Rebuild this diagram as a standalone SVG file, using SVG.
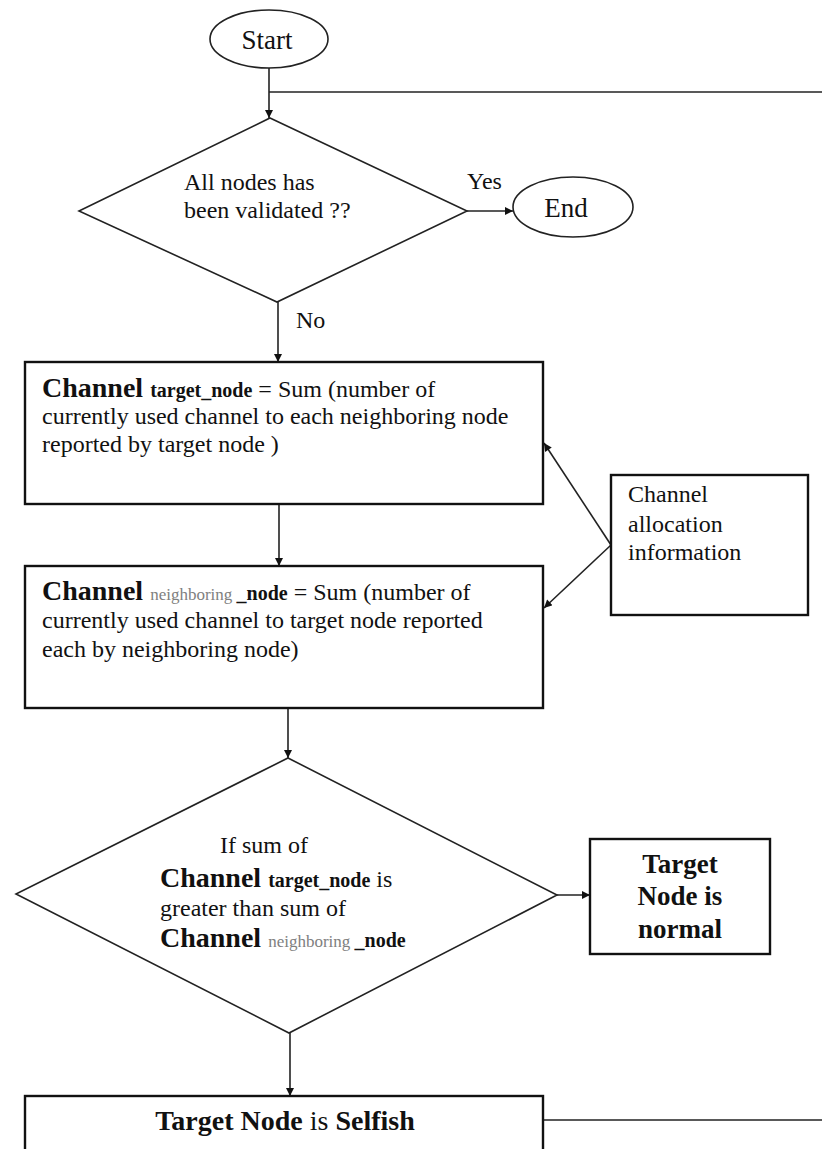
<svg xmlns="http://www.w3.org/2000/svg" width="822" height="1149" viewBox="0 0 822 1149">
<style>
  text { font-family: "Liberation Serif", "Times New Roman", serif; fill: #111; }
  .t { font-size: 24px; }
  .lbl { font-size: 24px; }
  .big { font-size: 28px; font-weight: bold; }
  .sub { font-size: 20px; font-weight: bold; }
  .subg { font-size: 17px; fill: #808080; }
  .bold27 { font-size: 27px; font-weight: bold; }
  .oval { font-size: 27px; }
  .shape { fill: #fff; stroke: #222; stroke-width: 1.6; }
  .box { fill: #fff; stroke: #111; stroke-width: 2.4; }
  .conn { fill: none; stroke: #222; stroke-width: 1.6; }
</style>
<defs>
  <marker id="arr" viewBox="0 0 10 10" refX="10" refY="5" markerUnits="userSpaceOnUse" markerWidth="9" markerHeight="8" orient="auto">
    <path d="M0,0 L10,5 L0,10 z" fill="#111"/>
  </marker>
</defs>

<g id="connectors">
  <line class="conn" x1="269" y1="68" x2="269" y2="118" marker-end="url(#arr)"/>
  <line class="conn" x1="269" y1="92" x2="822" y2="92"/>
  <line class="conn" x1="467" y1="211" x2="513" y2="211" marker-end="url(#arr)"/>
  <line class="conn" x1="278" y1="302" x2="278" y2="362" marker-end="url(#arr)"/>
  <line class="conn" x1="279" y1="504" x2="279" y2="566" marker-end="url(#arr)"/>
  <line class="conn" x1="611" y1="545" x2="544" y2="443" marker-end="url(#arr)"/>
  <line class="conn" x1="611" y1="545" x2="544" y2="608" marker-end="url(#arr)"/>
  <line class="conn" x1="288" y1="708" x2="288" y2="758" marker-end="url(#arr)"/>
  <line class="conn" x1="557" y1="895" x2="590" y2="895" marker-end="url(#arr)"/>
  <line class="conn" x1="290" y1="1033" x2="290" y2="1096" marker-end="url(#arr)"/>
  <line class="conn" x1="543" y1="1120" x2="822" y2="1120"/>
  <text class="lbl" x="467" y="189">Yes</text>
  <text class="lbl" x="296" y="328">No</text>
</g>

<g id="start">
  <ellipse class="shape" cx="269" cy="39" rx="59" ry="29"/>
  <text class="oval" x="267" y="49" text-anchor="middle">Start</text>
</g>

<g id="decision1">
  <polygon class="shape" points="270,118 467,211 277,302 79,211"/>
  <text class="t" x="184" y="190">All nodes has</text>
  <text class="t" x="184" y="218">been validated ??</text>
</g>

<g id="end">
  <ellipse class="shape" cx="573" cy="207" rx="60" ry="30"/>
  <text class="oval" x="566" y="217" text-anchor="middle">End</text>
</g>

<g id="box1">
  <rect class="box" x="25" y="362" width="518" height="142"/>
  <text class="t" x="42" y="397"><tspan class="big">Channel </tspan><tspan class="sub">target_node</tspan><tspan> = Sum (number of</tspan></text>
  <text class="t" x="42" y="424">currently used channel to each neighboring node</text>
  <text class="t" x="42" y="452">reported by target node )</text>
</g>

<g id="info">
  <rect class="box" x="611" y="475" width="197" height="140"/>
  <text class="t" x="628" y="502">Channel</text>
  <text class="t" x="628" y="532">allocation</text>
  <text class="t" x="628" y="560">information</text>
</g>

<g id="box2">
  <rect class="box" x="25" y="566" width="518" height="142"/>
  <text class="t" x="42" y="600"><tspan class="big">Channel </tspan><tspan class="subg">neighboring </tspan><tspan class="sub">_node</tspan><tspan> = Sum (number of</tspan></text>
  <text class="t" x="42" y="628">currently used channel to target node reported</text>
  <text class="t" x="42" y="657">each by neighboring node)</text>
</g>

<g id="decision2">
  <polygon class="shape" points="288,758 557,895 289,1033 16,894"/>
  <text class="t" x="220" y="853">If sum of</text>
  <text class="t" x="160" y="887"><tspan class="big">Channel </tspan><tspan class="sub">target_node</tspan><tspan> is</tspan></text>
  <text class="t" x="160" y="916">greater than sum of</text>
  <text class="t" x="160" y="947"><tspan class="big">Channel </tspan><tspan class="subg">neighboring </tspan><tspan class="sub">_node</tspan></text>
</g>

<g id="normal">
  <rect class="box" x="590" y="839" width="180" height="115"/>
  <text class="bold27" x="680" y="873" text-anchor="middle">Target</text>
  <text class="bold27" x="680" y="905" text-anchor="middle">Node is</text>
  <text class="bold27" x="680" y="938" text-anchor="middle">normal</text>
</g>

<g id="selfish">
  <rect class="box" x="25" y="1096" width="518" height="80"/>
  <text x="285" y="1130" text-anchor="middle" style="font-size:28px"><tspan font-weight="bold">Target Node </tspan><tspan>is </tspan><tspan font-weight="bold">Selfish</tspan></text>
</g>
</svg>
